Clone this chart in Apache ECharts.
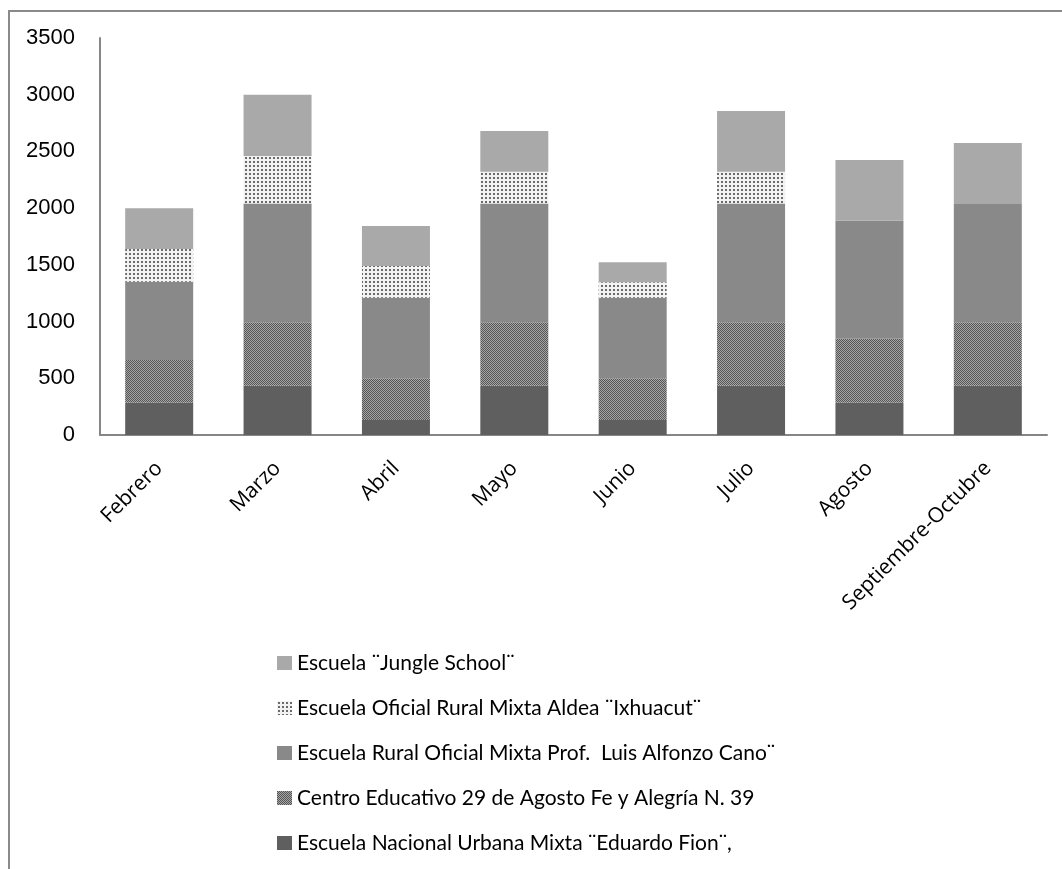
<!DOCTYPE html>
<html>
<head>
<meta charset="utf-8">
<script src="https://cdn.jsdelivr.net/npm/echarts@6/dist/echarts.min.js"></script>
<style>
  html, body { margin: 0; padding: 0; background: #fff; }
  #chart { width: 1062px; height: 869px; }
</style>
</head>
<body>
<div id="chart"></div>
<script>
// Monthly attendance by school (stacked)
const months = ['Febrero', 'Marzo', 'Abril', 'Mayo', 'Junio', 'Julio', 'Agosto', 'Septiembre-Octubre'];

const eduardoFion   = [285, 435, 132, 435, 132, 435, 285, 435];
const centroFeAleg  = [376, 558, 368, 558, 368, 558, 564, 558];
const luisAlfonzo   = [691, 1047, 711, 1047, 711, 1047, 1040, 1043];
const ixhuacut      = [288, 420, 279, 281, 135, 281, 0, 0];
const jungleSchool  = [360, 540, 353, 359, 176, 535, 535, 538];

const seriesNames = [
  'Escuela Nacional Urbana Mixta ¨Eduardo Fion¨,',
  'Centro Educativo 29 de Agosto Fe y Alegría N. 39',
  'Escuela Rural Oficial Mixta Prof.  Luis Alfonzo Cano¨',
  'Escuela Oficial Rural Mixta Aldea ¨Ixhuacut¨',
  'Escuela ¨Jungle School¨'
];

const yTicks = { min: 0, max: 3500, step: 500 };

// Fill patterns
function dotPattern() {
  const c = document.createElement('canvas');
  c.width = 4; c.height = 4;
  const g = c.getContext('2d');
  g.fillStyle = '#f2f2f2'; g.fillRect(0, 0, 4, 4);
  g.fillStyle = '#6a6a6a'; g.fillRect(1, 1, 2, 2);
  return c;
}
function checkerPattern() {
  const c = document.createElement('canvas');
  c.width = 2; c.height = 2;
  const g = c.getContext('2d');
  g.fillStyle = '#a6a6a6'; g.fillRect(0, 0, 2, 2);
  g.fillStyle = '#555555'; g.fillRect(0, 0, 1, 1); g.fillRect(1, 1, 1, 1);
  return c;
}

const fills = [
  '#5f5f5f',
  { image: checkerPattern(), repeat: 'repeat' },
  '#898989',
  { image: dotPattern(), repeat: 'repeat' },
  '#a9a9a9'
];
const values = [eduardoFion, centroFeAleg, luisAlfonzo, ixhuacut, jungleSchool];

const chart = echarts.init(document.getElementById('chart'), null, { renderer: 'canvas' });

chart.setOption({
  animation: false,
  backgroundColor: '#ffffff',
  graphic: [{
    type: 'rect',
    shape: { x: 9, y: 11, width: 1200, height: 1000 },
    style: { fill: 'none', stroke: '#8a8a8a', lineWidth: 2 },
    silent: true
  }],
  grid: { left: 100, right: 15, top: 38, bottom: 434, containLabel: false },
  legend: {
    orient: 'vertical',
    left: 272,
    top: 647,
    itemWidth: 15,
    itemHeight: 14,
    itemGap: 23,
    icon: 'rect',
    data: seriesNames.slice().reverse(),
    textStyle: { fontFamily: 'Lato, "Open Sans", sans-serif', fontSize: 21, color: '#000', lineHeight: 22 }
  },
  xAxis: {
    type: 'category',
    data: months,
    axisLine: { lineStyle: { color: '#868686', width: 2 } },
    axisTick: { show: false },
    axisLabel: {
      rotate: 45,
      interval: 0,
      margin: 30,
      color: '#000',
      fontFamily: '"Open Sans", sans-serif',
      fontSize: 21
    }
  },
  yAxis: {
    type: 'value',
    min: yTicks.min,
    max: yTicks.max,
    interval: yTicks.step,
    axisLine: { show: true, lineStyle: { color: '#868686', width: 2 } },
    axisTick: { show: false },
    splitLine: { show: false },
    axisLabel: {
      margin: 25,
      color: '#000',
      fontFamily: '"Liberation Sans", Arial, sans-serif',
      fontSize: 22,
      formatter: (v) => String(v)
    }
  },
  series: values.map((v, i) => ({
    name: seriesNames[i],
    type: 'bar',
    stack: 'total',
    barWidth: 68,
    data: v,
    itemStyle: { color: fills[i] }
  }))
});
</script>
</body>
</html>
